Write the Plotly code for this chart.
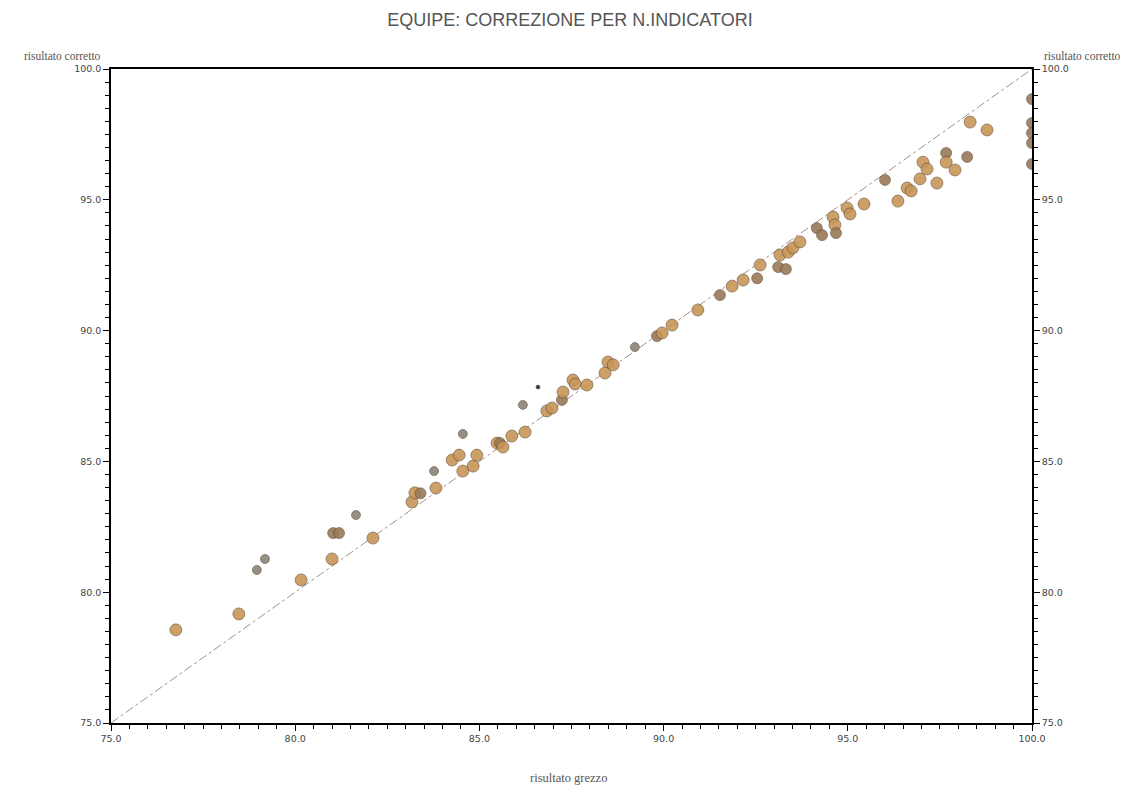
import plotly.graph_objects as go

# raw result (x) vs corrected result (y); group used for marker shade
raw = [76.76, 78.47, 78.96, 79.18, 80.16, 81.0, 81.03, 81.19, 81.65, 82.11,
       83.17, 83.25, 83.4, 83.77, 83.82, 84.26, 84.45, 84.55, 84.55, 84.83,
       84.93, 85.48, 85.56, 85.64, 85.88, 86.24, 86.18, 86.59, 86.83, 86.97,
       87.24, 87.27, 87.54, 87.6, 87.92, 88.41, 88.49, 88.63, 89.22, 89.82,
       89.96, 90.23, 90.93, 91.53, 91.86, 92.16, 92.54, 92.62, 93.11, 93.32,
       93.16, 93.38, 93.51, 93.7, 94.16, 94.3, 94.6, 94.65, 94.68, 94.98,
       95.06, 95.44, 96.01, 96.36, 96.61, 96.72, 96.96, 97.04, 97.15, 97.42,
       97.67, 97.67, 97.91, 98.24, 98.32, 98.78, 100.0, 100.0, 100.0, 100.0,
       100.0]
corrected = [78.56, 79.17, 80.85, 81.27, 80.47, 81.27, 82.26, 82.26, 82.95, 82.07,
             83.45, 83.8, 83.78, 84.63, 83.98, 85.05, 85.24, 86.05, 84.63, 84.82,
             85.24, 85.7, 85.7, 85.55, 85.97, 86.12, 87.16, 87.84, 86.93, 87.04,
             87.35, 87.65, 88.11, 87.96, 87.92, 88.38, 88.8, 88.69, 89.37, 89.79,
             89.91, 90.21, 90.79, 91.36, 91.7, 91.93, 92.0, 92.51, 92.43, 92.35,
             92.89, 93.0, 93.16, 93.39, 93.92, 93.65, 94.34, 94.04, 93.73, 94.69,
             94.46, 94.84, 95.76, 94.95, 95.45, 95.34, 95.8, 96.44, 96.18, 95.64,
             96.79, 96.44, 96.14, 96.64, 97.97, 97.67, 98.85, 97.94, 97.55, 97.17,
             96.37]
group = ["o", "o", "g", "g", "o", "o", "b", "b", "g", "o",
         "o", "o", "b", "g", "o", "o", "o", "g", "o", "o",
         "o", "o", "b", "o", "o", "o", "g", "k", "o", "o",
         "b", "o", "o", "o", "o", "o", "o", "o", "g", "b",
         "o", "o", "o", "b", "o", "o", "b", "o", "b", "b",
         "o", "o", "o", "o", "b", "b", "o", "o", "b", "o",
         "o", "o", "b", "o", "o", "o", "o", "o", "o", "o",
         "b", "o", "o", "b", "o", "o", "b", "b", "b", "b",
         "b"]
diag = [75.0, 100.0]
xticks = [75, 80, 85, 90, 95, 100]
xticklabels = ["75.0", "80.0", "85.0", "90.0", "95.0", "100.0"]

shade = {"o": "#c89658", "b": "#9a7a58", "g": "#8a8478", "k": "#202020"}
size = {"o": 12, "b": 11, "g": 9, "k": 4}

fig = go.Figure()
fig.add_trace(go.Scatter(x=diag, y=diag, mode="lines",
                         line=dict(color="#a89080", width=1, dash="dashdot"),
                         showlegend=False, hoverinfo="skip"))
fig.add_trace(go.Scatter(
    x=raw, y=corrected, mode="markers", showlegend=False,
    marker=dict(color=[shade[g] for g in group], size=[size[g] for g in group],
                line=dict(color="rgba(90,70,50,0.6)", width=1), opacity=0.9)))
fig.add_trace(go.Scatter(x=diag, y=diag, yaxis="y2", mode="markers",
                         marker=dict(opacity=0), showlegend=False, hoverinfo="skip"))

tickfont = dict(family="DejaVu Sans", size=9.5, color="#444")
W, H = 1124, 779
fig.update_layout(
    width=W, height=H, paper_bgcolor="white", plot_bgcolor="white",
    margin=dict(l=103, r=100, t=61, b=64),
    title=dict(text="EQUIPE: CORREZIONE PER N.INDICATORI", x=0.5, xanchor="center",
               y=1 - 12 / H, yanchor="middle",
               font=dict(family="Liberation Sans", size=18, color="#555")),
    xaxis=dict(range=[75, 100], tickvals=xticks, ticktext=xticklabels,
               showgrid=False, zeroline=False, showline=True, linecolor="black",
               linewidth=1.5, mirror=True, ticks="outside", ticklen=6, tickcolor="black",
               tickfont=tickfont,
               minor=dict(dtick=0.5, ticks="outside", ticklen=4, tickcolor="black")),
    yaxis=dict(range=[75, 100], tickvals=xticks, ticktext=xticklabels,
               showgrid=False, zeroline=False, showline=True, linecolor="black",
               linewidth=1.5, ticks="outside", ticklen=6, tickcolor="black",
               tickfont=tickfont,
               minor=dict(dtick=0.5, ticks="outside", ticklen=4, tickcolor="black")),
    yaxis2=dict(range=[75, 100], overlaying="y", side="right", tickvals=xticks,
                ticktext=xticklabels, showgrid=False, zeroline=False, showline=True,
                linecolor="black", linewidth=1.5, ticks="outside", ticklen=6,
                tickcolor="black", tickfont=tickfont,
                minor=dict(dtick=0.5, ticks="outside", ticklen=4, tickcolor="black")),
)
labfont = dict(family="Liberation Serif", size=11.5, color="#555")
fig.add_annotation(text="risultato corretto", xref="paper", yref="paper", x=0,
                   y=1.0, xanchor="right", yanchor="bottom", xshift=-8, yshift=5,
                   showarrow=False, font=labfont)
fig.add_annotation(text="risultato corretto", xref="paper", yref="paper", x=1,
                   y=1.0, xanchor="left", yanchor="bottom", xshift=10, yshift=5,
                   showarrow=False, font=labfont)
fig.add_annotation(text="risultato grezzo", xref="paper", yref="paper", x=0.497,
                   y=0, xanchor="center", yanchor="top", yshift=-46, showarrow=False,
                   font=dict(family="Liberation Serif", size=12.5, color="#555"))
fig.write_html("out.html")
